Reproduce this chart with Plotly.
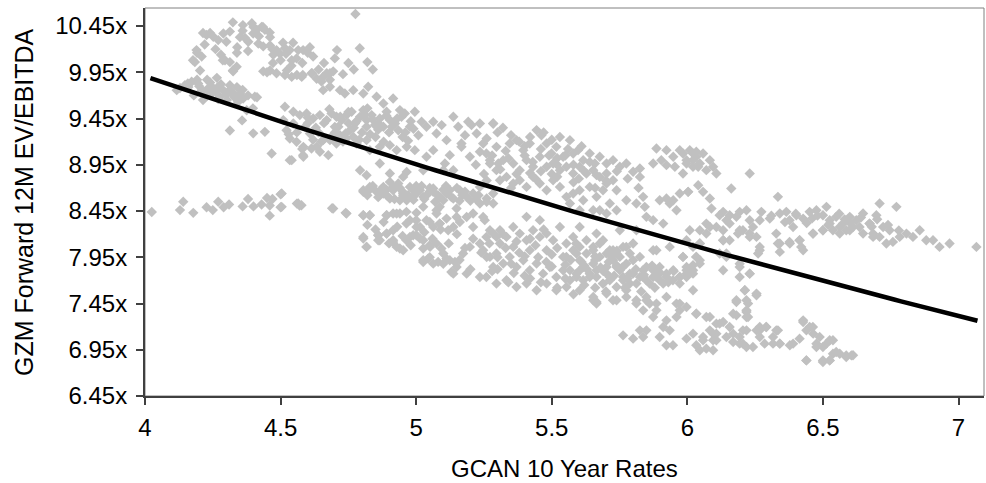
import plotly.graph_objects as go
import numpy as np

# ---------------- data ----------------
# GCAN 10 Year Rates (x) vs GZM Forward 12M EV/EBITDA (y), grouped by visual cluster
hump_pts = [
    (4.214, 10.374), (4.240, 10.374), (4.324, 10.49), (4.361, 10.46), (4.394, 10.48), (4.435, 10.44),
    (4.461, 10.33), (4.509, 10.27), (4.546, 10.27), (4.608, 10.22), (4.708, 10.19), (4.776, 10.58),
    (4.792, 10.21), (4.177, 10.08), (4.192, 10.16), (4.287, 10.08), (4.339, 10.16), (4.324, 9.97),
    (4.450, 9.95), (4.472, 10.05), (4.523, 9.97), (4.560, 9.92), (4.582, 9.92), (4.616, 9.94),
    (4.656, 9.90), (4.682, 9.94), (4.227, 10.353), (4.252, 10.334), (4.270, 10.298), (4.289, 10.37),
    (4.313, 10.39), (4.350, 10.33), (4.369, 10.32), (4.381, 10.28), (4.399, 10.37), (4.412, 10.41),
    (4.430, 10.44), (4.442, 10.41), (4.418, 10.26), (4.436, 10.23), (4.461, 10.24), (4.485, 10.19),
    (4.473, 10.14), (4.498, 10.15), (4.516, 10.21), (4.534, 10.19), (4.565, 10.19), (4.541, 10.08),
    (4.559, 10.10), (4.583, 10.19), (4.190, 10.19), (4.184, 10.06), (4.209, 10.12), (4.203, 9.97),
    (4.295, 10.08), (4.313, 10.06), (4.338, 10.01), (4.325, 9.96), (4.436, 9.96), (4.461, 9.97),
    (4.485, 9.94), (4.516, 9.92), (4.541, 9.90), (4.578, 9.90), (4.614, 9.94), (4.633, 9.88),
    (4.651, 9.85), (4.670, 9.94), (4.682, 9.87), (4.694, 9.96), (4.75, 10.05), (4.77, 9.98),
    (4.82, 10.06), (4.84, 9.98), (4.73, 9.93),
    (4.22, 10.25), (4.26, 10.20), (4.30, 10.28), (4.34, 10.22), (4.38, 10.18), (4.42, 10.34),
    (4.47, 10.20), (4.50, 10.08), (4.54, 10.02), (4.58, 10.05), (4.62, 10.12), (4.66, 10.05),
    (4.70, 10.10), (4.28, 10.14), (4.36, 10.40), (4.40, 10.44), (4.46, 10.38), (4.52, 10.15),
    (4.64, 9.98), (4.60, 10.16),
]
band_pts = [
    (4.129, 9.78), (4.158, 9.83), (4.192, 9.87), (4.229, 9.87), (4.265, 9.89), (4.251, 9.78),
    (4.287, 9.76), (4.313, 9.76), (4.339, 9.79), (4.350, 9.72), (4.214, 9.65), (4.302, 9.65),
    (4.343, 9.63), (4.413, 9.68), (4.398, 9.56), (4.358, 9.43), (4.313, 9.32), (4.117, 9.757),
    (4.147, 9.81), (4.172, 9.847), (4.196, 9.83), (4.209, 9.757), (4.233, 9.776), (4.246, 9.72),
    (4.270, 9.793), (4.276, 9.685), (4.313, 9.81), (4.325, 9.703), (4.362, 9.667), (4.375, 9.54),
    (4.405, 9.685), (4.399, 9.29), (4.442, 9.306), (4.467, 9.072), (4.534, 9.0), (4.583, 9.054),
    (4.18, 9.70), (4.23, 9.70), (4.26, 9.74), (4.30, 9.71),
    (4.16, 9.79), (4.20, 9.80), (4.24, 9.84), (4.28, 9.82), (4.32, 9.74), (4.36, 9.76),
    (4.22, 9.72), (4.27, 9.66), (4.33, 9.68), (4.38, 9.70),
]
low_strand_pts = [
    (4.025, 8.44), (4.129, 8.46), (4.141, 8.55), (4.178, 8.43), (4.227, 8.49), (4.25, 8.46),
    (4.27, 8.55), (4.29, 8.49), (4.31, 8.52), (4.36, 8.50), (4.38, 8.58), (4.40, 8.50),
    (4.43, 8.52), (4.45, 8.59), (4.46, 8.51), (4.46, 8.40), (4.47, 8.58), (4.50, 8.63),
    (4.50, 8.49), (4.56, 8.53), (4.57, 8.51), (4.69, 8.48), (4.74, 8.43), (4.743, 8.422),
]
mid_upper_pts = [
    (4.516, 9.577), (4.547, 9.523), (4.571, 9.487), (4.596, 9.505), (4.620, 9.451), (4.645, 9.487),
    (4.670, 9.433), (4.688, 9.505), (4.706, 9.469), (4.725, 9.433), (4.743, 9.487), (4.762, 9.523),
    (4.774, 9.397), (4.793, 9.469), (4.805, 9.541), (4.817, 9.433), (4.836, 9.487), (4.848, 9.379),
    (4.866, 9.451), (4.879, 9.361), (4.891, 9.523), (4.903, 9.433), (4.922, 9.397), (4.934, 9.324),
    (4.946, 9.469), (4.958, 9.505), (4.977, 9.361), (4.995, 9.523), (5.008, 9.270), (5.020, 9.415),
    (5.038, 9.361), (5.063, 9.415), (5.075, 9.288), (5.094, 9.379), (5.112, 9.216), (5.137, 9.469),
    (5.155, 9.361), (5.167, 9.180), (5.180, 9.270), (5.192, 9.415), (5.204, 9.379), (5.223, 9.288),
    (5.235, 9.397), (5.260, 9.234), (5.284, 9.397), (5.296, 9.144), (5.303, 8.964), (5.272, 9.000),
    (5.235, 9.090), (5.198, 9.036), (5.167, 9.144), (5.124, 9.054), (5.106, 8.964), (5.137, 8.891),
    (5.100, 8.891), (5.063, 9.108), (5.038, 9.036), (5.026, 8.891), (4.995, 9.108), (4.965, 9.144),
    (4.928, 9.108), (4.903, 9.162), (4.866, 9.144), (4.829, 9.108), (4.817, 9.216), (4.780, 9.180),
    (4.768, 9.252), (4.743, 9.234), (4.719, 9.270), (4.706, 9.180), (4.682, 9.216), (4.657, 9.216),
    (4.633, 9.144), (4.614, 9.126), (4.584, 9.144), (4.559, 9.198), (4.534, 9.234), (4.522, 9.324),
    (4.547, 9.397), (4.510, 9.433), (4.805, 9.721), (4.768, 9.757), (4.737, 9.721), (4.719, 9.757),
    (4.823, 9.793), (4.854, 9.685), (4.879, 9.613), (4.915, 9.667), (4.940, 9.541), (4.682, 9.793),
    (4.657, 9.757), (4.817, 9.361), (4.756, 9.324), (4.713, 9.361), (4.608, 9.288), (4.645, 9.090),
    (4.676, 9.054), (4.584, 9.036), (4.541, 9.000), (4.793, 8.891), (4.866, 8.964), (4.903, 8.855),
    (4.965, 8.873), (4.60, 9.40), (4.63, 9.35), (4.70, 9.30), (4.75, 9.40), (4.80, 9.30),
    (4.85, 9.25), (4.90, 9.30), (4.95, 9.25), (4.86, 9.33), (4.73, 9.20), (4.64, 9.30),
    (4.56, 9.30), (4.59, 9.36), (4.62, 9.22), (4.66, 9.40), (4.69, 9.26), (4.72, 9.47),
    (4.74, 9.29), (4.77, 9.35), (4.79, 9.22), (4.81, 9.49), (4.83, 9.28), (4.86, 9.40),
    (4.88, 9.20), (4.91, 9.36), (4.93, 9.45), (4.96, 9.30), (4.98, 9.42), (4.84, 9.44),
    (4.78, 9.42), (4.70, 9.36), (4.65, 9.20), (4.60, 9.46), (4.89, 9.48), (4.75, 9.52),
    (4.68, 9.55), (4.82, 9.56), (4.97, 9.21), (4.99, 9.34), (4.53, 9.28), (4.58, 9.12),
]
mid_lower_pts = [
    (4.805, 8.675), (4.829, 8.711), (4.854, 8.657), (4.879, 8.711), (4.891, 8.621), (4.915, 8.675),
    (4.934, 8.747), (4.952, 8.639), (4.977, 8.711), (4.989, 8.603), (5.014, 8.675), (5.038, 8.621),
    (5.063, 8.693), (5.087, 8.603), (5.112, 8.639), (5.137, 8.585), (5.161, 8.675), (5.186, 8.603),
    (5.210, 8.639), (5.235, 8.531), (5.260, 8.585), (5.284, 8.531), (4.504, 8.639), (4.504, 8.495),
    (4.565, 8.531), (4.577, 8.513), (4.694, 8.477), (4.805, 8.404), (4.829, 8.404), (4.891, 8.404),
    (4.915, 8.423), (4.940, 8.423), (4.977, 8.350), (5.014, 8.278), (5.038, 8.350), (5.063, 8.278),
    (5.087, 8.314), (5.112, 8.368), (5.137, 8.278), (5.161, 8.332), (5.186, 8.386), (5.210, 8.278),
    (5.247, 8.386), (5.272, 8.242), (5.296, 8.170), (4.805, 8.170), (4.817, 8.062), (4.860, 8.188),
    (4.866, 8.134), (4.891, 8.206), (4.915, 8.134), (4.928, 8.062), (4.952, 8.026), (4.977, 8.170),
    (5.001, 8.188), (5.026, 8.134), (5.051, 8.062), (5.075, 8.098), (5.100, 7.990), (5.124, 7.917),
    (5.149, 7.845), (5.173, 7.990), (5.198, 8.062), (5.235, 8.098), (5.260, 7.953), (5.284, 7.845),
    (5.026, 7.899), (5.063, 7.881), (5.137, 7.773), (5.186, 7.773), (5.235, 7.737), (4.915, 8.242),
    (5.075, 8.423), (4.965, 8.567), (5.026, 8.495), (5.087, 8.495), (5.149, 8.477), (5.210, 8.423),
    (4.817, 8.837), (4.903, 8.765), (4.952, 8.819), (4.95, 8.66), (5.00, 8.64), (5.05, 8.66),
    (5.10, 8.68), (5.02, 8.72), (4.87, 8.68), (5.17, 8.62), (5.22, 8.58), (5.16, 8.56),
    (4.82, 8.62), (4.84, 8.72), (4.86, 8.60), (4.89, 8.68), (4.92, 8.58), (4.94, 8.70),
    (4.97, 8.62), (5.00, 8.72), (5.03, 8.58), (5.05, 8.70), (5.08, 8.62), (5.11, 8.72),
    (5.13, 8.60), (5.15, 8.70), (5.18, 8.66), (5.20, 8.56), (5.23, 8.62), (5.26, 8.55),
    (4.99, 8.57), (5.07, 8.55),
    (4.82, 8.30), (4.85, 8.25), (4.88, 8.33), (4.90, 8.10), (4.93, 8.28), (4.95, 8.18),
    (4.98, 8.08), (5.00, 8.35), (5.03, 8.22), (5.06, 8.15), (5.09, 8.25), (5.12, 8.10),
    (5.15, 8.20), (5.18, 8.05), (5.21, 8.15), (5.24, 8.00), (5.05, 7.95), (5.10, 7.88),
    (5.16, 7.92), (5.20, 7.82),
]
left_low_pts = [
    (4.805, 8.657), (4.829, 8.682), (4.879, 8.639), (4.915, 8.711), (4.952, 8.621), (4.989, 8.675),
    (5.026, 8.603), (5.063, 8.657), (5.100, 8.567), (5.124, 8.675), (4.940, 8.567), (4.903, 8.585),
    (4.805, 8.404), (4.829, 8.404), (4.891, 8.404), (4.928, 8.422), (4.964, 8.441), (5.001, 8.430),
    (5.050, 8.332), (5.075, 8.459), (4.805, 8.152), (4.817, 8.062), (4.860, 8.188), (4.860, 8.134),
    (4.891, 8.206), (4.915, 8.116), (4.940, 8.044), (4.964, 8.134), (4.989, 8.188), (5.014, 8.152),
    (5.026, 8.044), (5.050, 8.080), (5.093, 8.044), (5.026, 7.917), (5.044, 7.935), (5.081, 7.900),
    (5.112, 7.935), (5.130, 7.791), (5.143, 7.900), (5.087, 8.314), (5.118, 8.242), (5.149, 8.386),
    (5.001, 8.278), (4.964, 8.314),
]
center_upper_pts = [
    (5.284, 9.397), (5.247, 9.180), (5.259, 9.072), (5.272, 8.964), (5.296, 8.892), (5.321, 9.000),
    (5.345, 9.180), (5.370, 9.216), (5.395, 9.108), (5.419, 9.180), (5.444, 9.325), (5.462, 9.270),
    (5.481, 9.180), (5.499, 9.072), (5.517, 9.144), (5.542, 9.036), (5.567, 9.216), (5.579, 9.072),
    (5.597, 9.108), (5.616, 9.000), (5.640, 9.072), (5.659, 8.964), (5.677, 9.036), (5.702, 8.964),
    (5.726, 9.000), (5.751, 8.928), (5.775, 8.964), (5.800, 8.874), (5.825, 8.910), (5.358, 8.964),
    (5.382, 8.892), (5.407, 9.000), (5.431, 8.928), (5.456, 9.036), (5.481, 8.928), (5.505, 8.964),
    (5.530, 8.892), (5.554, 8.928), (5.579, 8.856), (5.603, 8.928), (5.628, 8.856), (5.653, 8.892),
    (5.677, 8.819), (5.702, 8.856), (5.726, 8.783), (5.309, 8.783), (5.333, 8.819), (5.358, 8.747),
    (5.382, 8.783), (5.407, 8.711), (5.431, 8.819), (5.456, 8.747), (5.481, 8.675), (5.505, 8.783),
    (5.530, 8.711), (5.554, 8.603), (5.579, 8.639), (5.603, 8.675), (5.616, 8.567), (5.640, 8.711),
    (5.665, 8.603), (5.689, 8.675), (5.714, 8.531), (5.739, 8.459), (5.702, 8.423), (5.677, 8.459),
    (5.653, 8.459), (5.603, 8.459), (5.567, 8.531), (5.775, 8.567), (5.812, 8.531), (5.849, 8.387),
    (5.874, 8.351), (5.911, 8.314), (5.935, 8.531), (5.960, 8.459), (5.284, 8.639), (5.253, 8.351),
    (5.235, 8.711), (5.739, 8.675), (5.702, 8.747), (5.665, 8.838), (5.886, 9.126), (5.904, 9.000),
    (5.923, 9.108), (5.948, 9.036), (5.972, 9.108), (5.997, 9.000), (6.021, 9.072), (6.040, 8.928),
    (5.984, 8.856), (5.954, 8.928), (5.923, 8.946), (6.003, 8.657), (5.972, 8.639), (5.948, 8.567),
    (5.923, 8.585), (5.898, 8.567), (5.837, 8.603), (5.825, 8.819), (5.874, 8.964), (5.843, 8.495),
    (5.33, 9.10), (5.40, 9.05), (5.46, 9.12), (5.52, 9.02), (5.35, 9.27), (5.42, 9.25),
    (5.50, 9.22), (5.56, 9.12), (5.30, 9.30), (5.60, 8.80), (5.50, 8.85), (5.42, 8.86),
    (5.22, 8.95), (5.25, 8.85), (5.28, 9.05), (5.31, 8.90), (5.34, 9.02), (5.37, 8.85),
    (5.40, 9.15), (5.43, 8.98), (5.46, 8.88), (5.49, 9.05), (5.52, 8.95), (5.55, 9.05),
    (5.58, 8.95), (5.61, 9.15), (5.64, 8.98), (5.38, 9.20), (5.47, 9.30), (5.53, 9.25),
    (5.32, 9.35), (5.26, 8.78), (5.35, 8.70), (5.44, 8.80), (5.52, 8.82), (5.58, 8.76),
    (5.62, 8.88), (5.66, 8.70), (5.70, 8.78), (5.74, 8.88), (5.78, 8.80), (5.82, 8.70),
]
center_lower_pts = [
    (5.259, 8.170), (5.284, 8.206), (5.309, 8.242), (5.333, 8.170), (5.358, 8.278), (5.382, 8.206),
    (5.407, 8.134), (5.431, 8.242), (5.456, 8.170), (5.481, 8.206), (5.505, 8.134), (5.530, 8.278),
    (5.554, 8.098), (5.579, 8.170), (5.603, 8.062), (5.628, 8.134), (5.653, 8.026), (5.677, 8.098),
    (5.702, 7.990), (5.726, 8.026), (5.751, 7.954), (5.775, 8.062), (5.800, 7.918), (5.825, 7.954),
    (5.849, 7.845), (5.874, 7.809), (5.898, 7.845), (5.923, 7.773), (5.948, 7.809), (5.972, 7.737),
    (5.997, 7.845), (6.021, 7.773), (5.247, 8.026), (5.272, 7.954), (5.296, 7.990), (5.321, 7.882),
    (5.345, 7.954), (5.370, 7.845), (5.395, 7.918), (5.419, 7.809), (5.444, 7.882), (5.468, 7.773),
    (5.493, 7.845), (5.517, 7.737), (5.542, 7.809), (5.567, 7.701), (5.591, 7.773), (5.616, 7.845),
    (5.640, 7.737), (5.665, 7.809), (5.689, 7.665), (5.714, 7.737), (5.739, 7.845), (5.763, 7.701),
    (5.788, 7.773), (5.812, 7.665), (5.837, 7.737), (5.861, 7.665), (5.886, 7.737), (5.911, 7.665),
    (5.259, 7.737), (5.296, 7.665), (5.333, 7.701), (5.370, 7.629), (5.407, 7.665), (5.444, 7.593),
    (5.481, 7.665), (5.517, 7.593), (5.554, 7.629), (5.603, 7.593), (5.653, 7.521), (5.665, 7.449),
    (5.702, 7.557), (5.739, 7.485), (5.775, 7.521), (5.812, 7.449), (5.849, 7.485), (5.886, 7.449),
    (5.923, 7.521), (5.972, 7.449), (5.997, 7.413), (5.591, 7.990), (5.542, 7.954), (5.481, 8.026),
    (5.419, 8.026), (5.358, 8.062), (5.309, 8.098), (5.456, 8.351), (5.407, 8.387), (5.603, 8.278),
    (5.665, 8.206), (5.800, 8.098), (5.874, 8.026), (5.812, 8.242), (5.751, 8.242), (6.021, 7.593),
    (5.972, 7.665), (5.33, 8.05), (5.38, 8.00), (5.44, 8.08), (5.50, 7.98), (5.36, 7.78),
    (5.42, 7.72), (5.48, 7.90), (5.55, 7.87), (5.30, 7.82), (5.40, 7.96),
    (5.27, 8.10), (5.30, 7.95), (5.32, 8.20), (5.35, 7.88), (5.37, 8.12), (5.40, 7.75),
    (5.42, 8.15), (5.45, 7.95), (5.47, 8.25), (5.50, 7.85), (5.52, 8.05), (5.55, 7.72),
    (5.57, 7.92), (5.59, 8.10), (5.28, 7.80), (5.34, 7.68), (5.46, 7.68), (5.52, 7.62),
    (5.58, 7.55), (5.62, 7.65),
]
dense_core_pts = [
    (5.554, 7.954), (5.579, 8.026), (5.603, 7.918), (5.628, 7.990), (5.653, 7.881), (5.677, 7.954),
    (5.702, 7.845), (5.726, 7.918), (5.751, 7.809), (5.775, 7.881), (5.800, 7.773), (5.653, 8.062),
    (5.689, 8.134), (5.714, 8.026), (5.739, 7.990), (5.763, 8.062), (5.788, 7.990), (5.567, 7.809),
    (5.591, 7.737), (5.616, 7.701), (5.640, 7.773), (5.665, 7.737), (5.689, 7.665), (5.714, 7.701),
    (5.739, 7.629), (5.763, 7.737), (5.788, 7.665), (5.825, 7.737), (5.849, 7.701), (5.874, 7.737),
    (5.898, 7.701), (5.923, 7.737), (5.947, 7.701), (5.972, 7.737), (5.997, 7.773), (5.837, 7.809),
    (5.886, 7.809), (5.653, 7.485), (5.665, 7.467), (5.726, 7.485), (5.775, 7.593), (5.812, 7.485),
    (5.849, 7.521), (5.861, 7.449), (5.886, 7.376), (5.837, 7.376), (5.874, 7.304), (5.923, 7.268),
    (5.935, 7.160), (5.911, 7.196), (5.898, 7.088), (5.849, 7.160), (5.825, 7.160), (5.763, 7.106),
    (5.800, 7.070), (5.837, 7.088), (5.960, 7.449), (5.972, 7.376), (5.960, 7.304), (6.021, 7.124),
    (6.033, 7.340), (6.070, 7.304), (6.083, 7.160), (6.107, 7.124), (6.119, 7.232), (6.144, 7.088),
    (6.095, 7.052), (6.058, 7.052), (6.033, 6.998), (6.070, 6.962), (5.997, 7.070), (5.923, 6.998),
    (5.947, 6.998), (6.169, 7.034), (6.193, 7.088), (6.218, 7.160), (6.205, 7.016), (6.242, 6.980),
    (6.267, 7.088), (6.291, 7.196), (6.316, 7.016), (6.341, 7.016), (6.378, 6.998), (6.414, 7.070),
    (6.427, 7.268), (6.451, 7.196), (6.464, 7.124), (6.476, 7.016), (6.500, 6.980), (6.525, 7.052),
    (6.537, 6.907), (6.562, 6.907), (6.586, 6.889), (6.605, 6.889), (6.439, 6.835), (6.500, 6.817),
    (6.525, 6.835), (6.267, 7.196), (6.328, 7.160), (6.255, 7.160), (6.181, 7.485), (6.218, 7.485),
    (6.255, 7.557), (6.212, 7.593), (6.169, 7.340), (6.218, 7.376), (6.218, 7.304), (6.033, 7.954),
    (5.997, 7.809), (6.021, 7.863), (6.046, 7.918), (5.886, 8.026), (5.935, 8.062), (5.984, 7.954),
    (5.997, 8.134), (6.046, 8.098), (6.132, 8.134), (6.144, 7.990), (6.193, 7.881), (6.230, 7.773),
    (6.267, 8.026), (6.341, 8.098), (6.414, 8.134), (6.427, 8.026), (6.378, 8.098), (5.62, 7.86),
    (5.66, 7.92), (5.70, 7.78), (5.74, 7.86), (5.60, 7.80), (5.68, 7.84), (5.72, 7.96),
    (5.61, 7.90), (5.63, 7.82), (5.66, 7.96), (5.69, 7.80), (5.71, 7.90), (5.73, 7.75),
    (5.76, 7.84), (5.78, 7.72), (5.81, 7.82), (5.84, 7.76), (5.87, 7.86), (5.90, 7.78),
    (5.93, 7.68), (5.95, 7.80), (5.70, 7.58), (5.77, 7.62), (5.83, 7.58), (5.88, 7.62),
    (5.66, 7.62), (5.74, 8.02),
]
right_pts = [
    (6.046, 8.242), (6.070, 8.206), (6.107, 8.278), (6.132, 8.242), (6.156, 8.314), (6.193, 8.242),
    (6.230, 8.206), (6.255, 8.170), (6.328, 8.206), (6.390, 8.278), (6.464, 8.206), (6.500, 8.242),
    (6.525, 8.314), (6.562, 8.278), (6.599, 8.242), (6.635, 8.278), (6.685, 8.206), (6.672, 8.314),
    (5.984, 9.072), (6.009, 9.108), (6.033, 9.036), (6.058, 9.072), (6.083, 9.000), (5.997, 8.964),
    (6.021, 8.928), (6.046, 8.964), (6.070, 8.892), (6.095, 8.928), (6.107, 8.856), (6.230, 8.856),
    (6.033, 9.090), (6.021, 9.000), (6.003, 8.657), (6.040, 8.729), (6.058, 8.657), (6.083, 8.585),
    (6.162, 8.693), (6.089, 8.477), (6.132, 8.441), (6.156, 8.405), (6.181, 8.387), (6.144, 8.350),
    (6.119, 8.405), (6.193, 8.441), (6.218, 8.459), (6.230, 8.350), (6.242, 8.278), (6.273, 8.441),
    (6.267, 8.350), (6.304, 8.368), (6.334, 8.603), (6.341, 8.423), (6.365, 8.441), (6.377, 8.350),
    (6.402, 8.405), (6.427, 8.368), (6.451, 8.441), (6.476, 8.459), (6.500, 8.405), (6.513, 8.495),
    (6.525, 8.350), (6.549, 8.387), (6.574, 8.314), (6.599, 8.387), (6.623, 8.350), (6.648, 8.423),
    (6.672, 8.314), (6.697, 8.405), (6.709, 8.531), (6.722, 8.278), (6.746, 8.242), (6.771, 8.495),
    (6.783, 8.170), (6.808, 8.206), (6.832, 8.170), (6.857, 8.242), (6.881, 8.134), (6.906, 8.134),
    (6.930, 8.062), (6.967, 8.098), (7.066, 8.062), (6.537, 8.242), (6.562, 8.206), (6.500, 8.242),
    (6.463, 8.206), (6.648, 8.206), (6.685, 8.170), (6.709, 8.170), (6.734, 8.098), (6.758, 8.116),
    (6.586, 8.242), (6.611, 8.278), (6.334, 8.098), (6.377, 8.116), (6.414, 8.134), (6.420, 8.062),
    (6.341, 8.008), (6.267, 8.062), (6.261, 7.990), (6.230, 8.170), (6.205, 8.242), (6.187, 8.206),
    (6.156, 8.134), (6.132, 8.134), (6.083, 8.278), (6.070, 8.314), (6.046, 8.098), (6.021, 8.062),
    (6.009, 8.242), (5.984, 7.954), (6.033, 7.954), (6.046, 7.881), (6.021, 7.809), (5.997, 7.737),
    (6.119, 7.990), (6.144, 7.954), (6.132, 7.809), (6.193, 7.845), (6.230, 7.773), (6.193, 7.737),
    (6.212, 7.593), (6.255, 7.539), (6.181, 7.467), (6.224, 7.449), (6.218, 7.358), (6.224, 7.304),
    (6.033, 7.340), (6.083, 7.304), (6.107, 7.232), (6.132, 7.250), (6.156, 7.196), (6.181, 7.322),
    (6.095, 7.124), (6.058, 7.088), (6.107, 7.052), (6.046, 6.944), (6.095, 6.944), (6.169, 7.124),
    (6.205, 7.160), (6.193, 7.016), (6.218, 6.980), (6.267, 7.160), (6.291, 7.196), (6.316, 7.088),
    (6.341, 7.016), (6.390, 7.016), (6.427, 7.250), (6.439, 7.160), (6.463, 7.196), (6.488, 7.088),
    (6.513, 7.016), (6.537, 7.052), (6.476, 6.980), (6.549, 6.926), (6.586, 6.871), (6.611, 6.890),
    (6.439, 6.835), (6.500, 6.835), (6.525, 6.835), (6.334, 7.160), (6.285, 7.016),
    (6.31, 8.40), (6.36, 8.33), (6.40, 8.42), (6.44, 8.32), (6.48, 8.40), (6.52, 8.30),
    (6.56, 8.42), (6.60, 8.32), (6.64, 8.38), (6.68, 8.28), (6.58, 8.36), (6.46, 8.37),
    (6.70, 8.36), (6.74, 8.30), (6.78, 8.24),
]

# Exponential trend line y = a * exp(b * x), coefficients
trend_a = 14.845
trend_b = -0.1011
trend_x_span = [4.02, 7.07]

x_tick_vals = [4, 4.5, 5, 5.5, 6, 6.5, 7]
x_tick_text = ["4", "4.5", "5", "5.5", "6", "6.5", "7"]
y_tick_vals = [6.45, 6.95, 7.45, 7.95, 8.45, 8.95, 9.45, 9.95, 10.45]
y_tick_text = ["6.45x", "6.95x", "7.45x", "7.95x", "8.45x", "8.95x", "9.45x", "9.95x", "10.45x"]

x_title = "GCAN 10 Year Rates"
y_title = "GZM Forward 12M EV/EBITDA"

# ---------------- figure ----------------
all_pts = (hump_pts + band_pts + low_strand_pts + mid_upper_pts + mid_lower_pts + left_low_pts
           + center_upper_pts + center_lower_pts + dense_core_pts + right_pts)
xs = [p[0] for p in all_pts]
ys = [p[1] for p in all_pts]

FONT = "Liberation Sans, Arial, sans-serif"

fig = go.Figure()
fig.add_trace(go.Scatter(
    x=xs, y=ys, mode="markers",
    marker=dict(symbol="diamond", size=8, color="#C0C0C0", line=dict(width=0)),
    showlegend=False, hoverinfo="skip",
))

tx = np.linspace(trend_x_span[0], trend_x_span[1], 120)
ty = trend_a * np.exp(trend_b * tx)
fig.add_trace(go.Scatter(
    x=tx, y=ty, mode="lines",
    line=dict(color="#000000", width=4.5),
    showlegend=False, hoverinfo="skip",
))

axis_common = dict(
    showgrid=False, zeroline=False, showline=True, linecolor="#404040", linewidth=2,
    ticks="outside", ticklen=7, tickwidth=1.5, tickcolor="#404040",
    tickfont=dict(family=FONT, size=24, color="#000000"),
)

fig.update_layout(
    width=986, height=483,
    margin=dict(l=145, r=2, t=8, b=87),
    paper_bgcolor="white", plot_bgcolor="white",
    xaxis=dict(range=[4, 7.094], tickvals=x_tick_vals, ticktext=x_tick_text,
               ticklabelstandoff=2, **axis_common),
    yaxis=dict(range=[6.45, 10.645], tickvals=y_tick_vals, ticktext=y_tick_text,
               ticklabelstandoff=4, **axis_common),
    shapes=[dict(type="rect", xref="paper", yref="paper", x0=0, x1=1, y0=0, y1=1,
                 line=dict(color="#808080", width=1), layer="below")],
    annotations=[
        dict(text=x_title, xref="paper", yref="paper", x=0.5, y=-0.1856,
             xanchor="center", yanchor="middle", showarrow=False,
             font=dict(family=FONT, size=24, color="#000000")),
        dict(text=y_title, xref="paper", yref="paper", x=-0.1442, y=0.5,
             xanchor="center", yanchor="middle", textangle=-90, showarrow=False,
             font=dict(family=FONT, size=25, color="#000000")),
    ],
)

fig.write_html("out.html")
